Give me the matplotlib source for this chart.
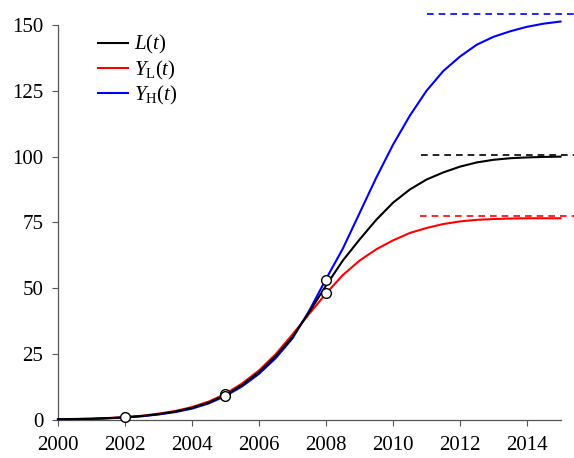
import numpy as np
import matplotlib
matplotlib.use('Agg')
import matplotlib.pyplot as plt

plt.rcParams['font.family'] = ['Liberation Serif', 'DejaVu Serif']
plt.rcParams['mathtext.fontset'] = 'custom'
plt.rcParams['mathtext.rm'] = 'Liberation Serif'
plt.rcParams['mathtext.it'] = 'Liberation Serif:italic'

# half-yearly values of the three trajectories
years = [2000.0, 2000.5, 2001.0, 2001.5, 2002.0, 2002.5, 2003.0, 2003.5, 2004.0, 2004.5,
         2005.0, 2005.5, 2006.0, 2006.5, 2007.0, 2007.5, 2008.0, 2008.5, 2009.0, 2009.5,
         2010.0, 2010.5, 2011.0, 2011.5, 2012.0, 2012.5, 2013.0, 2013.5, 2014.0, 2014.5, 2015.0]
L_t = [0.3, 0.35, 0.45, 0.7, 1.0, 1.5, 2.2, 3.2, 4.6, 6.6,
       9.5, 13.3, 18.2, 24.3, 31.5, 41.0, 51.0, 60.5, 68.5, 76.0,
       82.5, 87.5, 91.3, 94.0, 96.2, 97.8, 98.8, 99.4, 99.7, 99.9, 100.0]
Y_low = [0.3, 0.4, 0.5, 0.75, 1.1, 1.6, 2.4, 3.4, 4.9, 7.0,
         9.9, 13.9, 18.8, 25.0, 32.5, 40.3, 48.0, 55.0, 60.5, 64.8,
         68.2, 71.0, 72.9, 74.4, 75.4, 76.0, 76.3, 76.5, 76.6, 76.6, 76.6]
Y_high = [0.3, 0.35, 0.4, 0.65, 0.95, 1.4, 2.1, 3.0, 4.3, 6.3,
          9.1, 12.8, 17.5, 23.5, 31.0, 41.5, 53.5, 65.0, 78.5, 92.0,
          104.5, 115.5, 125.0, 132.5, 138.0, 142.5, 145.5, 147.6, 149.3, 150.5, 151.3]

# saturation levels
L_sat, YL_sat, YH_sat = 100.5, 77.5, 154.0
sat_start = [2010.85, 2010.8, 2011.0]
sat_end = 2015.45

# observed points
obs_x = [2002, 2005, 2005, 2008, 2008]
obs_y = [1.0, 9.8, 9.1, 53.3, 48.1]

fig = plt.figure(figsize=(5.74, 4.58), dpi=100)
ax = fig.add_axes([0.101, 0.083, 0.8755, 0.8625])

ax.plot(years, L_t, color='black', lw=1.5, label=r'$L(t)$', zorder=3, clip_on=False)
ax.plot(years, Y_low, color='red', lw=1.5, label=r'$Y_\mathrm{L}(t)$', zorder=2, clip_on=False)
ax.plot(years, Y_high, color='blue', lw=1.5, label=r'$Y_\mathrm{H}(t)$', zorder=2, clip_on=False)

for lvl, x0, c in zip([L_sat, YL_sat, YH_sat], sat_start, ['black', 'red', 'blue']):
    ax.plot([x0, sat_end], [lvl, lvl], color=c, lw=1.2, ls=(0, (4, 3)), clip_on=False)

ax.plot(obs_x, obs_y, 'o', ms=7, mfc='white', mec='black', mew=1.0, zorder=5, clip_on=False)

ax.set_xlim(2000, 2015)
ax.set_ylim(0, 150)
ax.set_xticks(range(2000, 2015, 2))
ax.set_yticks(range(0, 151, 25))
ax.tick_params(labelsize=15, direction='out', length=4.5, width=0.8, color='#555555')
ax.tick_params(axis='y', pad=6)
ax.tick_params(axis='x', pad=7)

for s in ['top', 'right']:
    ax.spines[s].set_visible(False)
for s in ['left', 'bottom']:
    ax.spines[s].set_color('#555555')
    ax.spines[s].set_linewidth(0.9)

ax.legend(loc='upper left', bbox_to_anchor=(0.058, 1.005), frameon=False, fontsize=15,
          handlelength=1.45, handletextpad=0.3, labelspacing=0.1, borderpad=0)

fig.savefig('out.png', dpi=100)
